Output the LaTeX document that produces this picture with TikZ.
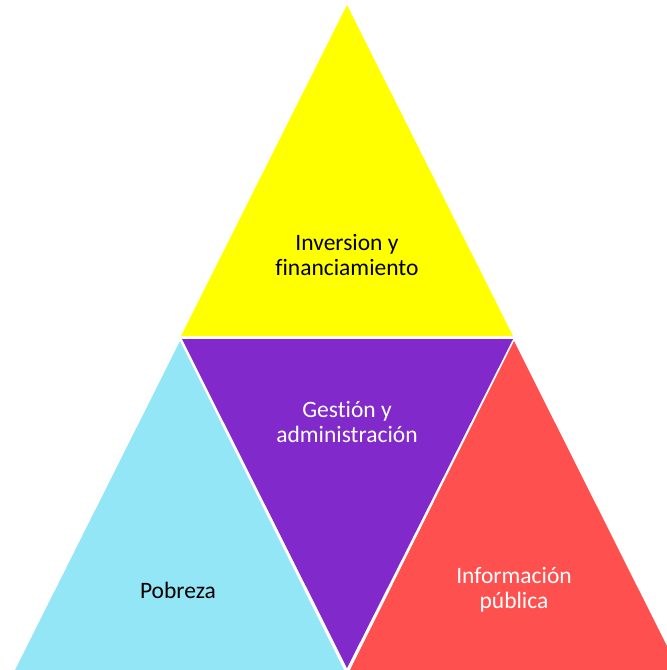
\documentclass[tikz,border=0pt]{standalone}
\usepackage{fontspec}
\setmainfont{Carlito}[Ligatures=NoCommon]
\definecolor{cyel}{RGB}{255,255,0}
\definecolor{cpur}{RGB}{130,41,204}
\definecolor{cblu}{RGB}{146,230,246}
\definecolor{cred}{RGB}{255,80,80}
\begin{document}
\begin{tikzpicture}[x=1pt,y=-1pt,
  lbl/.style={font=\fontsize{23.5}{25}\selectfont,align=center,inner sep=0pt}]
\useasboundingbox (0,0) rectangle (667,670);
\clip (0,0) rectangle (667,670);
% triangles
\coordinate (ya) at (347,5);
\coordinate (yl) at (181,336);
\coordinate (yr) at (513,336);
\fill[cyel] (ya) -- (yr) -- (yl) -- cycle;
\coordinate (pl) at (182,339);
\coordinate (pr) at (513,339);
\coordinate (pb) at (347,668);
\fill[cpur] (pl) -- (pr) -- (pb) -- cycle;
\coordinate (ba) at (180,341);
\coordinate (bl) at (14,672);
\coordinate (br) at (345,672);
\fill[cblu] (ba) -- (br) -- (bl) -- cycle;
\coordinate (ra) at (514,341);
\coordinate (rl) at (349,672);
\coordinate (rr) at (680,672);
\fill[cred] (ra) -- (rr) -- (rl) -- cycle;
% labels
\node[lbl] (t1) at (347,255) {Inversion y\\financiamiento};
\node[lbl,text=white] (t2) at (347,422) {Gestión y\\administración};
\node[lbl] (t3) at (178,590) {Pobreza};
\node[lbl,text=white] (t4) at (514,590) {Información\\pública};
\end{tikzpicture}
\end{document}
